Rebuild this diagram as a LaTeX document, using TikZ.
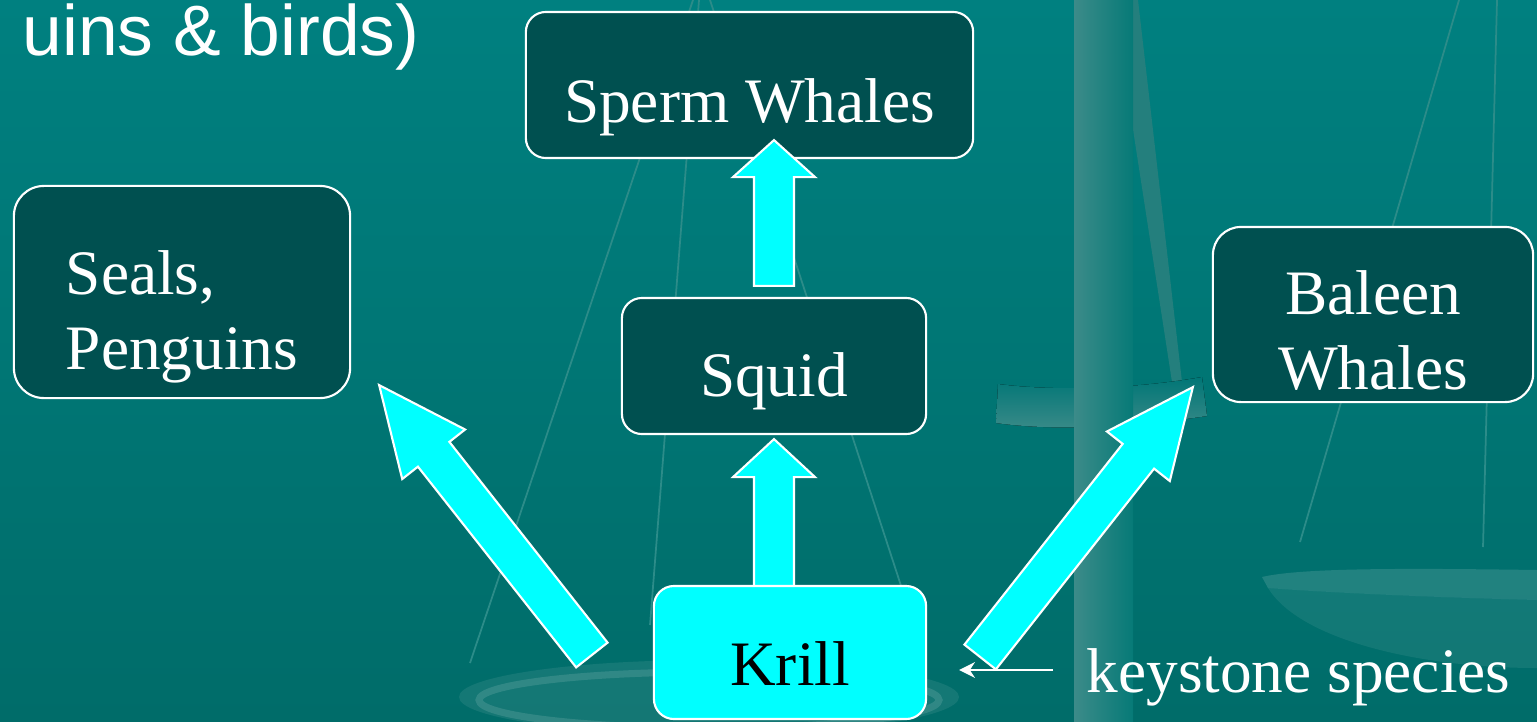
\documentclass[tikz,border=0pt]{standalone}
\usepackage{fontspec}
\setmainfont{Liberation Serif}
\newfontfamily\headsans{Liberation Sans}
\usepackage{tikz}
\usetikzlibrary{positioning,arrows.meta,calc,backgrounds}

\definecolor{seatop}{RGB}{0,128,128}
\definecolor{seabottom}{RGB}{0,108,105}
\definecolor{boxteal}{RGB}{0,80,80}
\definecolor{krillcyan}{RGB}{0,255,255}
\definecolor{ropeteal}{RGB}{44,140,137}
\definecolor{pillarlight}{RGB}{60,139,137}
\definecolor{pillardark}{RGB}{6,122,119}
\definecolor{wedgeteal}{RGB}{36,127,125}

% block arrow: tail, tip, head half width, head length
\newcommand{\fatarrow}[4]{%
  \coordinate (hb) at ($(#2)!#4!(#1)$);
  \draw[fat] ($(#1)!0.2cm!90:(#2)$) -- ($(hb)!0.2cm!-90:(#1)$) -- ($(hb)!#3!-90:(#1)$) -- (#2)
    -- ($(hb)!#3!90:(#1)$) -- ($(hb)!0.2cm!90:(#1)$) -- ($(#1)!0.2cm!-90:(#2)$) -- cycle;
}

\begin{document}
\begin{tikzpicture}[
  x=0.01cm, y=-0.01cm,
  species/.style={draw=white, line width=0.6pt, fill=boxteal, text=white, inner sep=0pt,
    font=\fontsize{18}{21.3}\selectfont, text depth=0.1cm},
  krillbox/.style={species, fill=krillcyan, text=black},
  fat/.style={draw=white, line width=0.6pt, fill=krillcyan},
  rope/.style={draw=ropeteal, line width=0.5pt},
  caption/.style={text=white, inner sep=0pt, font=\fontsize{18}{21.3}\selectfont},
]
\useasboundingbox (0,0) rectangle (1537,721);

% ---------- the food web ----------
\node[species, minimum width=4.47cm, minimum height=1.46cm, rounded corners=0.2cm, text height=0.84cm] (sperm) at (749.5,85) {Sperm Whales};
\node[species, minimum width=3.04cm, minimum height=1.36cm, rounded corners=0.2cm, text height=0.70cm] (squid) at (774,366) {Squid};
\node[species, align=left, minimum width=3.36cm, minimum height=2.12cm, rounded corners=0.3cm, text height=1.65cm] (seals) at (182,292) {Seals,\\Penguins};
\node[species, align=center, minimum width=3.20cm, minimum height=1.75cm, rounded corners=0.28cm, text height=1.59cm] (baleen) at (1373,314.5) {Baleen\\Whales};
\node[krillbox, minimum width=2.72cm, minimum height=1.33cm, rounded corners=0.2cm, text height=0.75cm] (krill) at (790,652.5) {Krill};

% ---------- backdrop: sea and balance scale ----------
\begin{scope}[on background layer]
\fill[top color=seatop, bottom color=seabottom] (0,0) rectangle (1537,721);
\fill[wedgeteal] (1113,0) -- (1138,0) -- (1182,382) -- (1172,382) -- cycle;
\fill[top color=seatop!92!black, bottom color=pillarlight] (998,384) .. controls (1060,392) and (1140,388) .. (1202,377)
  -- (1207,416) .. controls (1140,426) and (1060,432) .. (996,423) -- cycle;
\fill[left color=pillarlight, right color=pillardark] (1074,0) rectangle (1133,721);
\draw[rope] (693,0) -- (470,663) (699,0) -- (650,625) (710,0) -- (905,598);
\draw[rope] (1459,0) -- (1300,542) (1497,0) -- (1483,547);
\fill[white, opacity=0.08] (709,697) ellipse [x radius=250, y radius=37];
\draw[white, opacity=0.12, line width=2pt] (709,700) ellipse [x radius=230, y radius=28];
\fill[white, opacity=0.13] (1262,577) .. controls (1300,568) and (1400,568) .. (1537,570)
  -- (1537,600) .. controls (1420,597) and (1320,592) .. (1268,588) -- cycle;
\fill[white, opacity=0.07] (1268,588) .. controls (1300,640) and (1420,668) .. (1537,668)
  -- (1537,600) .. controls (1420,597) and (1320,592) .. (1268,588) -- cycle;
\end{scope}

% ---------- block arrows out of the krill ----------
\begin{scope}[on background layer]
\coordinate (krill-up) at ($(krill.north -| squid.south)+(0,20)$);
\coordinate (squid-in) at ($(squid.south)+(0,4)$);
\coordinate (krill-left) at ($(krill.west)+(-61,2.5)$);
\coordinate (seals-in) at ($(seals.south east)+(28,-14)$);
\coordinate (krill-right) at ($(krill.east)+(53,4.5)$);
\coordinate (baleen-in) at ($(baleen.south west)+(-19,-16)$);
\fatarrow{krill-up}{squid-in}{0.41cm}{0.38cm}
\fatarrow{krill-left}{seals-in}{0.40cm}{0.88cm}
\fatarrow{krill-right}{baleen-in}{0.40cm}{0.88cm}
\end{scope}

\coordinate (squid-out) at ($(squid.north)+(0,-11)$);
\coordinate (sperm-in) at ($(sperm.south -| squid.north)+(0,-19)$);
\fatarrow{squid-out}{sperm-in}{0.41cm}{0.37cm}

% ---------- keystone label ----------
\node[caption, anchor=base west] (keystone) at (1086,692) {keystone species};
\coordinate (key-from) at ($(keystone.base west)+(-33,-22)$);
\draw[white, line width=0.5pt, -{Stealth[length=4.5pt,width=4.5pt]}, shorten >=0.32cm] (key-from) -- (key-from -| krill.east);

% ---------- heading ----------
\node[text=white, inner sep=0pt, font=\headsans\fontsize{20.3}{24}\selectfont, anchor=base east] (heading) at (420,55) {uins \& birds)};
\end{tikzpicture}
\end{document}
